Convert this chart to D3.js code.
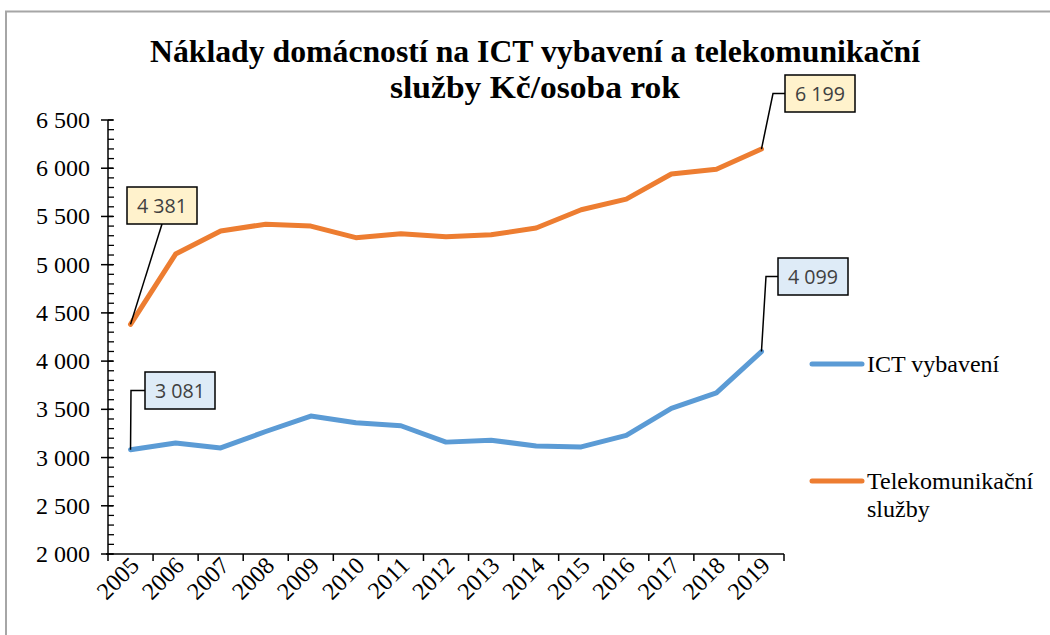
<!DOCTYPE html>
<html>
<head>
<meta charset="utf-8">
<script src="https://cdn.jsdelivr.net/npm/d3@7"></script>
<style>
  html, body { margin: 0; padding: 0; background: #fff; }
  svg { display: block; }
</style>
</head>
<body>
<svg id="chart" width="1050" height="635"></svg>
<script>
// Roky
const years = ["2005","2006","2007","2008","2009","2010","2011","2012","2013","2014","2015","2016","2017","2018","2019"];
// Náklady na ICT vybavení (Kč/osoba rok)
const ictValues = [3081, 3150, 3100, 3270, 3430, 3360, 3330, 3160, 3180, 3120, 3110, 3230, 3510, 3670, 4099];
// Náklady na telekomunikační služby (Kč/osoba rok)
const telValues = [4381, 5110, 5350, 5420, 5400, 5280, 5320, 5290, 5310, 5380, 5570, 5680, 5940, 5990, 6199];
const yTicks = [2000, 2500, 3000, 3500, 4000, 4500, 5000, 5500, 6000, 6500];
const seriesNames = ["ICT vybavení", "Telekomunikační služby"];

const svg = d3.select("#chart");
const serif = "'Liberation Serif', 'Times New Roman', serif";
const sans = "'Open Sans', 'Liberation Sans', sans-serif";
const blue = "#5B9BD5", orange = "#ED7D31";
const num = v => d3.format(",")(v).replace(",", " ");

// rám grafu
svg.append("rect").attr("x", 6).attr("y", 11.5).attr("width", 1100).attr("height", 700)
  .attr("fill", "#fff").attr("stroke", "#a6a6a6").attr("stroke-width", 2);

// nadpis
const title = svg.append("text").attr("text-anchor", "middle")
  .attr("font-family", serif).attr("font-weight", "bold").attr("font-size", 31).attr("fill", "#000");
title.append("tspan").attr("x", 535).attr("y", 62)
  .attr("textLength", 770).attr("lengthAdjust", "spacingAndGlyphs")
  .text("Náklady domácností na ICT vybavení a telekomunikační");
title.append("tspan").attr("x", 535).attr("y", 98)
  .attr("textLength", 290).attr("lengthAdjust", "spacingAndGlyphs")
  .text("služby Kč/osoba rok");

const x = d3.scaleBand().domain(years).range([108, 784]);
const y = d3.scaleLinear().domain([2000, 6500]).range([554, 120]);

// osa Y
const yAxis = svg.append("g").attr("transform", "translate(108,0)");
yAxis.append("line").attr("y1", y(6500)).attr("y2", y(2000)).attr("stroke", "#000").attr("stroke-width", 1.5);
yAxis.selectAll("line.minor").data(d3.range(2000, 6501, 100)).join("line").attr("class", "minor")
  .attr("x1", 0).attr("x2", 6).attr("y1", d => y(d)).attr("y2", d => y(d))
  .attr("stroke", "#000").attr("stroke-width", 1.3);
yAxis.selectAll("line.major").data(yTicks).join("line").attr("class", "major")
  .attr("x1", -7).attr("x2", 5).attr("y1", d => y(d)).attr("y2", d => y(d))
  .attr("stroke", "#000").attr("stroke-width", 1.5);
yAxis.selectAll("text").data(yTicks).join("text")
  .attr("x", -18).attr("y", d => y(d) + 8).attr("text-anchor", "end")
  .attr("font-family", serif).attr("font-size", 24).attr("fill", "#000")
  .text(num);

// osa X
const xAxis = svg.append("g");
xAxis.append("line").attr("x1", 106).attr("x2", 784).attr("y1", 554).attr("y2", 554)
  .attr("stroke", "#000").attr("stroke-width", 1.5);
const edges = years.map(d => x(d)).concat([x.range()[1]]);
xAxis.selectAll("line.tick").data(edges).join("line").attr("class", "tick")
  .attr("x1", d => d).attr("x2", d => d).attr("y1", 554).attr("y2", 561)
  .attr("stroke", "#000").attr("stroke-width", 1.5);
xAxis.selectAll("text").data(years).join("text")
  .attr("text-anchor", "end").attr("font-family", serif).attr("font-size", 24).attr("fill", "#000")
  .attr("transform", d => `translate(${x(d) + x.bandwidth() / 2 + 10},567) rotate(-45)`)
  .text(d => d);

const cx = d => x(d) + x.bandwidth() / 2;
const line = d3.line().x((d, i) => cx(years[i])).y(d => y(d));

svg.append("path").datum(telValues).attr("d", line).attr("fill", "none")
  .attr("stroke", orange).attr("stroke-width", 5).attr("stroke-linejoin", "round").attr("stroke-linecap", "round");
svg.append("path").datum(ictValues).attr("d", line).attr("fill", "none")
  .attr("stroke", blue).attr("stroke-width", 5).attr("stroke-linejoin", "round").attr("stroke-linecap", "round");

// popisky hodnot s odkazovými čarami
const callouts = [
  { i: 0, v: telValues[0], fill: "#FFF2CC", bx: 127, by: 187, leader: "straight" },
  { i: 0, v: ictValues[0], fill: "#DEEBF7", bx: 145, by: 372, leader: "elbow", ex: 131 },
  { i: 14, v: telValues[14], fill: "#FFF2CC", bx: 785, by: 75, leader: "elbow", ex: 773 },
  { i: 14, v: ictValues[14], fill: "#DEEBF7", bx: 778, by: 258, leader: "elbow", ex: 766 }
];
const bw = 70, bh = 37;
callouts.forEach(c => {
  const px = cx(years[c.i]), py = y(c.v);
  let pts;
  if (c.leader === "straight") pts = [[px, py], [c.bx + bw / 2, c.by + bh]];
  else pts = [[px, py], [c.ex, c.by + bh / 2], [c.bx, c.by + bh / 2]];
  svg.append("path").attr("d", d3.line()(pts)).attr("fill", "none")
    .attr("stroke", "#000").attr("stroke-width", 1.5);
  svg.append("rect").attr("x", c.bx).attr("y", c.by).attr("width", bw).attr("height", bh)
    .attr("fill", c.fill).attr("stroke", "#000").attr("stroke-width", 1.5);
  svg.append("text").attr("x", c.bx + bw / 2).attr("y", c.by + bh / 2 + 7.5)
    .attr("text-anchor", "middle").attr("font-family", sans).attr("font-size", 20).attr("fill", "#404040")
    .attr("textLength", 50).attr("lengthAdjust", "spacingAndGlyphs")
    .text(num(c.v));
});

// legenda
const legend = svg.append("g");
legend.append("line").attr("x1", 812).attr("x2", 862).attr("y1", 364).attr("y2", 364)
  .attr("stroke", blue).attr("stroke-width", 5).attr("stroke-linecap", "round");
legend.append("text").attr("x", 867).attr("y", 372).attr("font-family", serif).attr("font-size", 24)
  .text(seriesNames[0]);
legend.append("line").attr("x1", 812).attr("x2", 862).attr("y1", 481).attr("y2", 481)
  .attr("stroke", orange).attr("stroke-width", 5).attr("stroke-linecap", "round");
const lt = legend.append("text").attr("font-family", serif).attr("font-size", 24);
lt.append("tspan").attr("x", 867).attr("y", 489).text("Telekomunikační");
lt.append("tspan").attr("x", 867).attr("y", 517).text("služby");
</script>
</body>
</html>
